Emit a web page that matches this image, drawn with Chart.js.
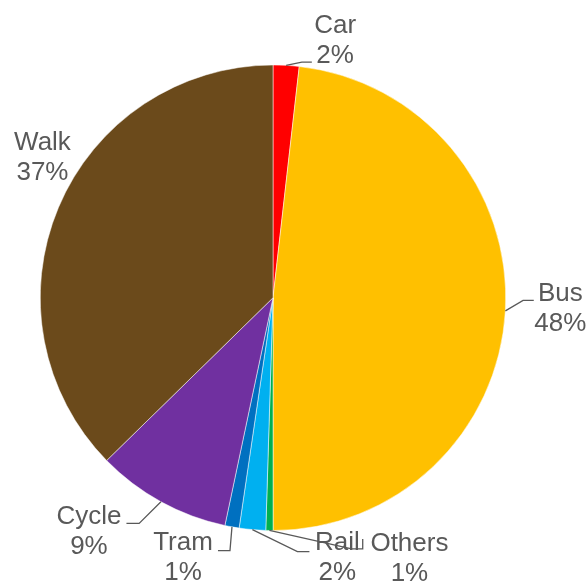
<!DOCTYPE html>
<html>
<head>
<meta charset="utf-8">
<script src="https://cdn.jsdelivr.net/npm/chart.js@4.4.0/dist/chart.umd.min.js"></script>
<style>
  html, body { margin: 0; padding: 0; background: #fff; }
  #wrap { width: 588px; height: 581px; }
</style>
</head>
<body>
<div id="wrap"><canvas id="chart" width="588" height="581"></canvas></div>
<script>
// travel mode shares
const modes = ['Car', 'Bus', 'Others', 'Rail', 'Tram', 'Cycle', 'Walk'];
const shares = [1.8, 48.2, 0.5, 1.83, 0.99, 9.36, 37.33];
const shareLabels = ['2%', '48%', '1%', '2%', '1%', '9%', '37%'];
const sliceColors = ['#FF0000', '#FFC000', '#00B050', '#00B0F0', '#0070C0', '#7030A0', '#6B4A1B'];

// label placement relative to the slice's outer mid point
// text: centre of the two-line block, leader: elbow points (null = no line)
const labelLayout = [
  { text: [49, -25], leader: [[15.7, -3.3], [25.7, -3.3]] },
  { text: [55, -2], leader: [[17.7, -10.5], [28.4, -10.5]] },
  { text: [140, 28], leader: [[82.3, 18.5], [93.3, 18.5], [93.3, 8.5]] },
  { text: [85, 28.5], leader: [[45, 22], [57, 22]] },
  { text: [-49, 30.5], leader: [[-2, 23.7], [-14, 23.7]] },
  { text: [-72, 30.5], leader: [[-21.8, 21.7], [-34.5, 21.7]] },
  { text: [-16, -49.5], leader: null }
];

const calloutLabels = {
  id: 'calloutLabels',
  afterDatasetsDraw(chart) {
    const ctx = chart.ctx;
    const arcs = chart.getDatasetMeta(0).data;
    ctx.save();
    arcs.forEach((arc, i) => {
      const mid = (arc.startAngle + arc.endAngle) / 2;
      const ax = arc.x + Math.cos(mid) * arc.outerRadius;
      const ay = arc.y + Math.sin(mid) * arc.outerRadius;
      const lay = labelLayout[i];

      if (lay.leader) {
        ctx.strokeStyle = '#595959';
        ctx.lineWidth = 1.3;
        ctx.beginPath();
        ctx.moveTo(ax, ay);
        lay.leader.forEach(p => ctx.lineTo(ax + p[0], ay + p[1]));
        ctx.stroke();
      }

      const tx = ax + lay.text[0];
      const ty = ay + lay.text[1];
      ctx.fillStyle = '#595959';
      ctx.font = '26px "Liberation Sans", Arial, sans-serif';
      ctx.textAlign = 'center';
      ctx.textBaseline = 'middle';
      ctx.fillText(modes[i], tx, ty - 15);
      ctx.fillText(shareLabels[i], tx, ty + 15);
    });
    ctx.restore();
  }
};

new Chart(document.getElementById('chart').getContext('2d'), {
  type: 'pie',
  data: {
    labels: modes,
    datasets: [{
      data: shares,
      backgroundColor: sliceColors,
      borderColor: '#ffffff',
      borderWidth: 0.5
    }]
  },
  options: {
    responsive: false,
    animation: false,
    layout: { padding: { left: 40, right: 82, top: 64.5, bottom: 50 } },
    plugins: {
      legend: { display: false },
      tooltip: { enabled: false }
    }
  },
  plugins: [calloutLabels]
});
</script>
</body>
</html>
